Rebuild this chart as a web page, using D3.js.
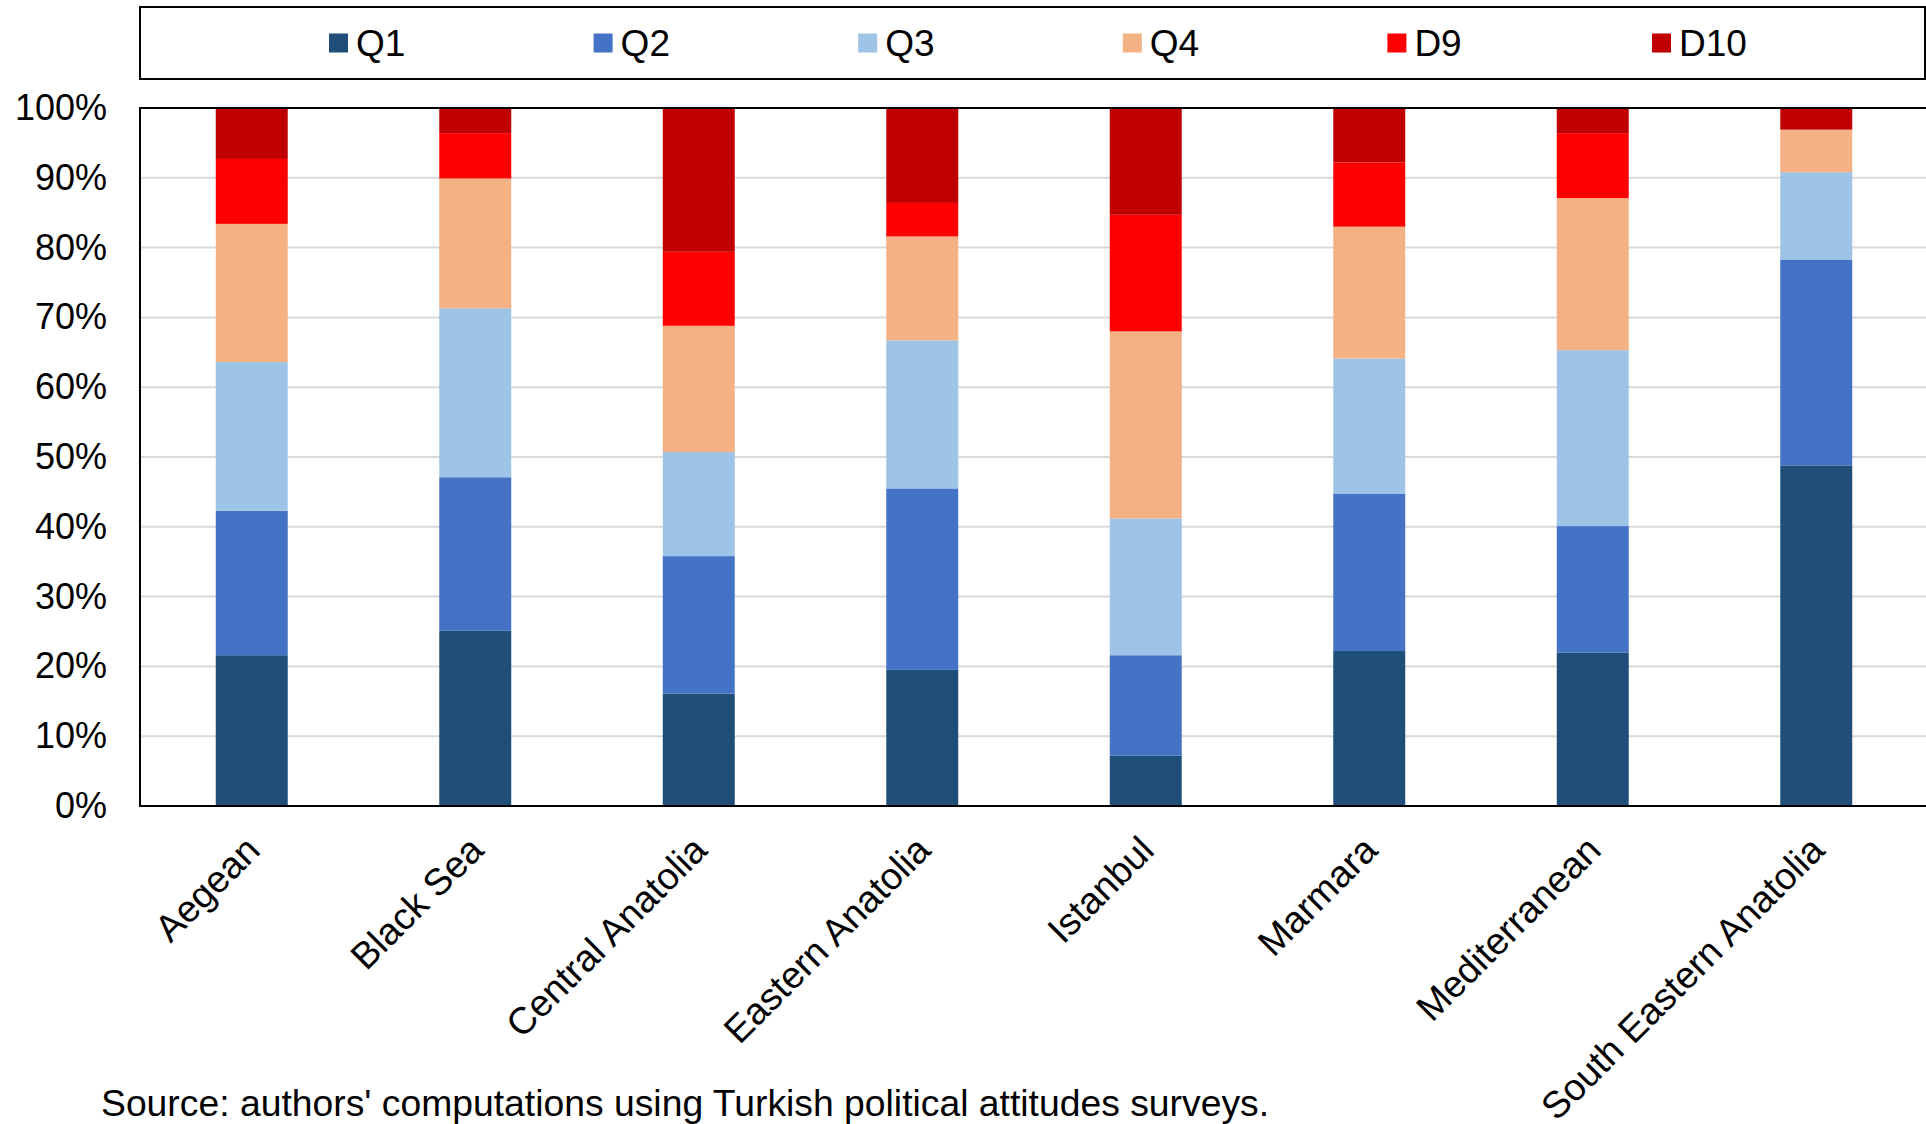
<!DOCTYPE html>
<html>
<head>
<meta charset="utf-8">
<script src="https://cdn.jsdelivr.net/npm/d3@7"></script>
<style>
  html, body { margin: 0; padding: 0; background: #fff; }
  svg { display: block; font-family: "Liberation Sans", Arial, sans-serif; }
</style>
</head>
<body>
<svg id="chart" width="1926" height="1124"></svg>
<script>
// ---- data ----
const categories = ["Aegean", "Black Sea", "Central Anatolia", "Eastern Anatolia", "Istanbul", "Marmara", "Mediterranean", "South Eastern Anatolia"];
const seriesNames = ["Q1", "Q2", "Q3", "Q4", "D9", "D10"];
const q1  = [21.6, 25.1, 16.1, 19.5,  7.2, 22.2, 22.0, 48.8];
const q2  = [20.7, 22.0, 19.7, 26.0, 14.4, 22.5, 18.1, 29.5];
const q3  = [21.3, 24.2, 14.9, 21.2, 19.6, 19.4, 25.2, 12.5];
const q4  = [19.8, 18.6, 18.1, 14.9, 26.8, 18.9, 21.8,  6.1];
const d9  = [ 9.3,  6.5, 10.6,  4.8, 16.7,  9.2,  9.3,  0.0];
const d10 = [ 7.3,  3.6, 20.6, 13.6, 15.3,  7.8,  3.6,  3.1];
const yTicks = [0, 10, 20, 30, 40, 50, 60, 70, 80, 90, 100];
const sourceNote = "Source: authors' computations using Turkish political attitudes surveys.";
const colors = ["#1F4E79", "#4472C4", "#9DC3E6", "#F4B183", "#FF0000", "#C00000"];

(function () {
  // ---- build table ----
  const seriesValues = [q1, q2, q3, q4, d9, d10];
  const rows = categories.map((c, i) => {
    const r = { category: c };
    seriesNames.forEach((s, j) => { r[s] = seriesValues[j][i]; });
    return r;
  });

  const svg = d3.select("#chart");
  const pL = 140, pR = 1928, pT = 108, pB = 806;

  const x = d3.scaleBand().domain(categories).range([pL, pR]).paddingInner(0.678).paddingOuter(0.339);
  const y = d3.scaleLinear().domain([0, 100]).range([pB, pT]);
  const color = d3.scaleOrdinal().domain(seriesNames).range(colors);

  // gridlines
  svg.append("g")
    .selectAll("line")
    .data(yTicks.filter(t => t > 0 && t < 100))
    .join("line")
    .attr("x1", pL).attr("x2", 1926)
    .attr("y1", d => y(d)).attr("y2", d => y(d))
    .attr("stroke", "#d9d9d9").attr("stroke-width", 2);

  // bars
  const stacked = d3.stack().keys(seriesNames)(rows);
  svg.append("g")
    .selectAll("g")
    .data(stacked)
    .join("g")
    .attr("fill", d => color(d.key))
    .selectAll("rect")
    .data(d => d)
    .join("rect")
    .attr("x", d => x(d.data.category))
    .attr("width", x.bandwidth())
    .attr("y", d => y(d[1]))
    .attr("height", d => y(d[0]) - y(d[1]));

  // plot border (top, left, bottom)
  svg.append("path")
    .attr("d", `M1926,${pT}H${pL}V${pB}H1926`)
    .attr("fill", "none").attr("stroke", "#000").attr("stroke-width", 2);

  // y axis labels
  const yAxis = d3.axisLeft(y).tickValues(yTicks).tickFormat(d => d + "%").tickSize(0).tickPadding(33);
  const yg = svg.append("g").attr("transform", `translate(${pL},0)`).call(yAxis);
  yg.select(".domain").remove();
  yg.selectAll("text")
    .attr("font-family", "Liberation Sans, Arial, sans-serif")
    .attr("font-size", 36).attr("fill", "#000");

  // x axis labels (rotated)
  const xAxis = d3.axisBottom(x).tickSize(0).tickPadding(0);
  const xg = svg.append("g").attr("transform", `translate(0,${pB})`).call(xAxis);
  xg.select(".domain").remove();
  xg.selectAll("text")
    .attr("font-family", "Liberation Sans, Arial, sans-serif")
    .attr("font-size", 37.5).attr("fill", "#000")
    .attr("text-anchor", "end")
    .attr("y", 0).attr("dy", "0.35em")
    .attr("transform", "translate(1,37) rotate(-45)");

  // legend
  svg.append("rect")
    .attr("x", 140).attr("y", 7).attr("width", 1785).attr("height", 72)
    .attr("fill", "#fff").attr("stroke", "#000").attr("stroke-width", 2);
  const legendX = d3.scalePoint().domain(seriesNames).range([329, 1652]);
  const lg = svg.append("g").selectAll("g").data(seriesNames).join("g")
    .attr("transform", d => `translate(${legendX(d)},43)`);
  lg.append("rect").attr("x", 0).attr("y", -9.5).attr("width", 19).attr("height", 19)
    .attr("fill", d => color(d));
  lg.append("text").attr("x", 27).attr("y", 0).attr("dy", "0.35em")
    .attr("font-size", 37).attr("fill", "#000").text(d => d);

  // source
  svg.append("text")
    .attr("x", 101).attr("y", 1116)
    .attr("font-size", 37.3).attr("fill", "#000")
    .text(sourceNote);
})();
</script>
</body>
</html>
